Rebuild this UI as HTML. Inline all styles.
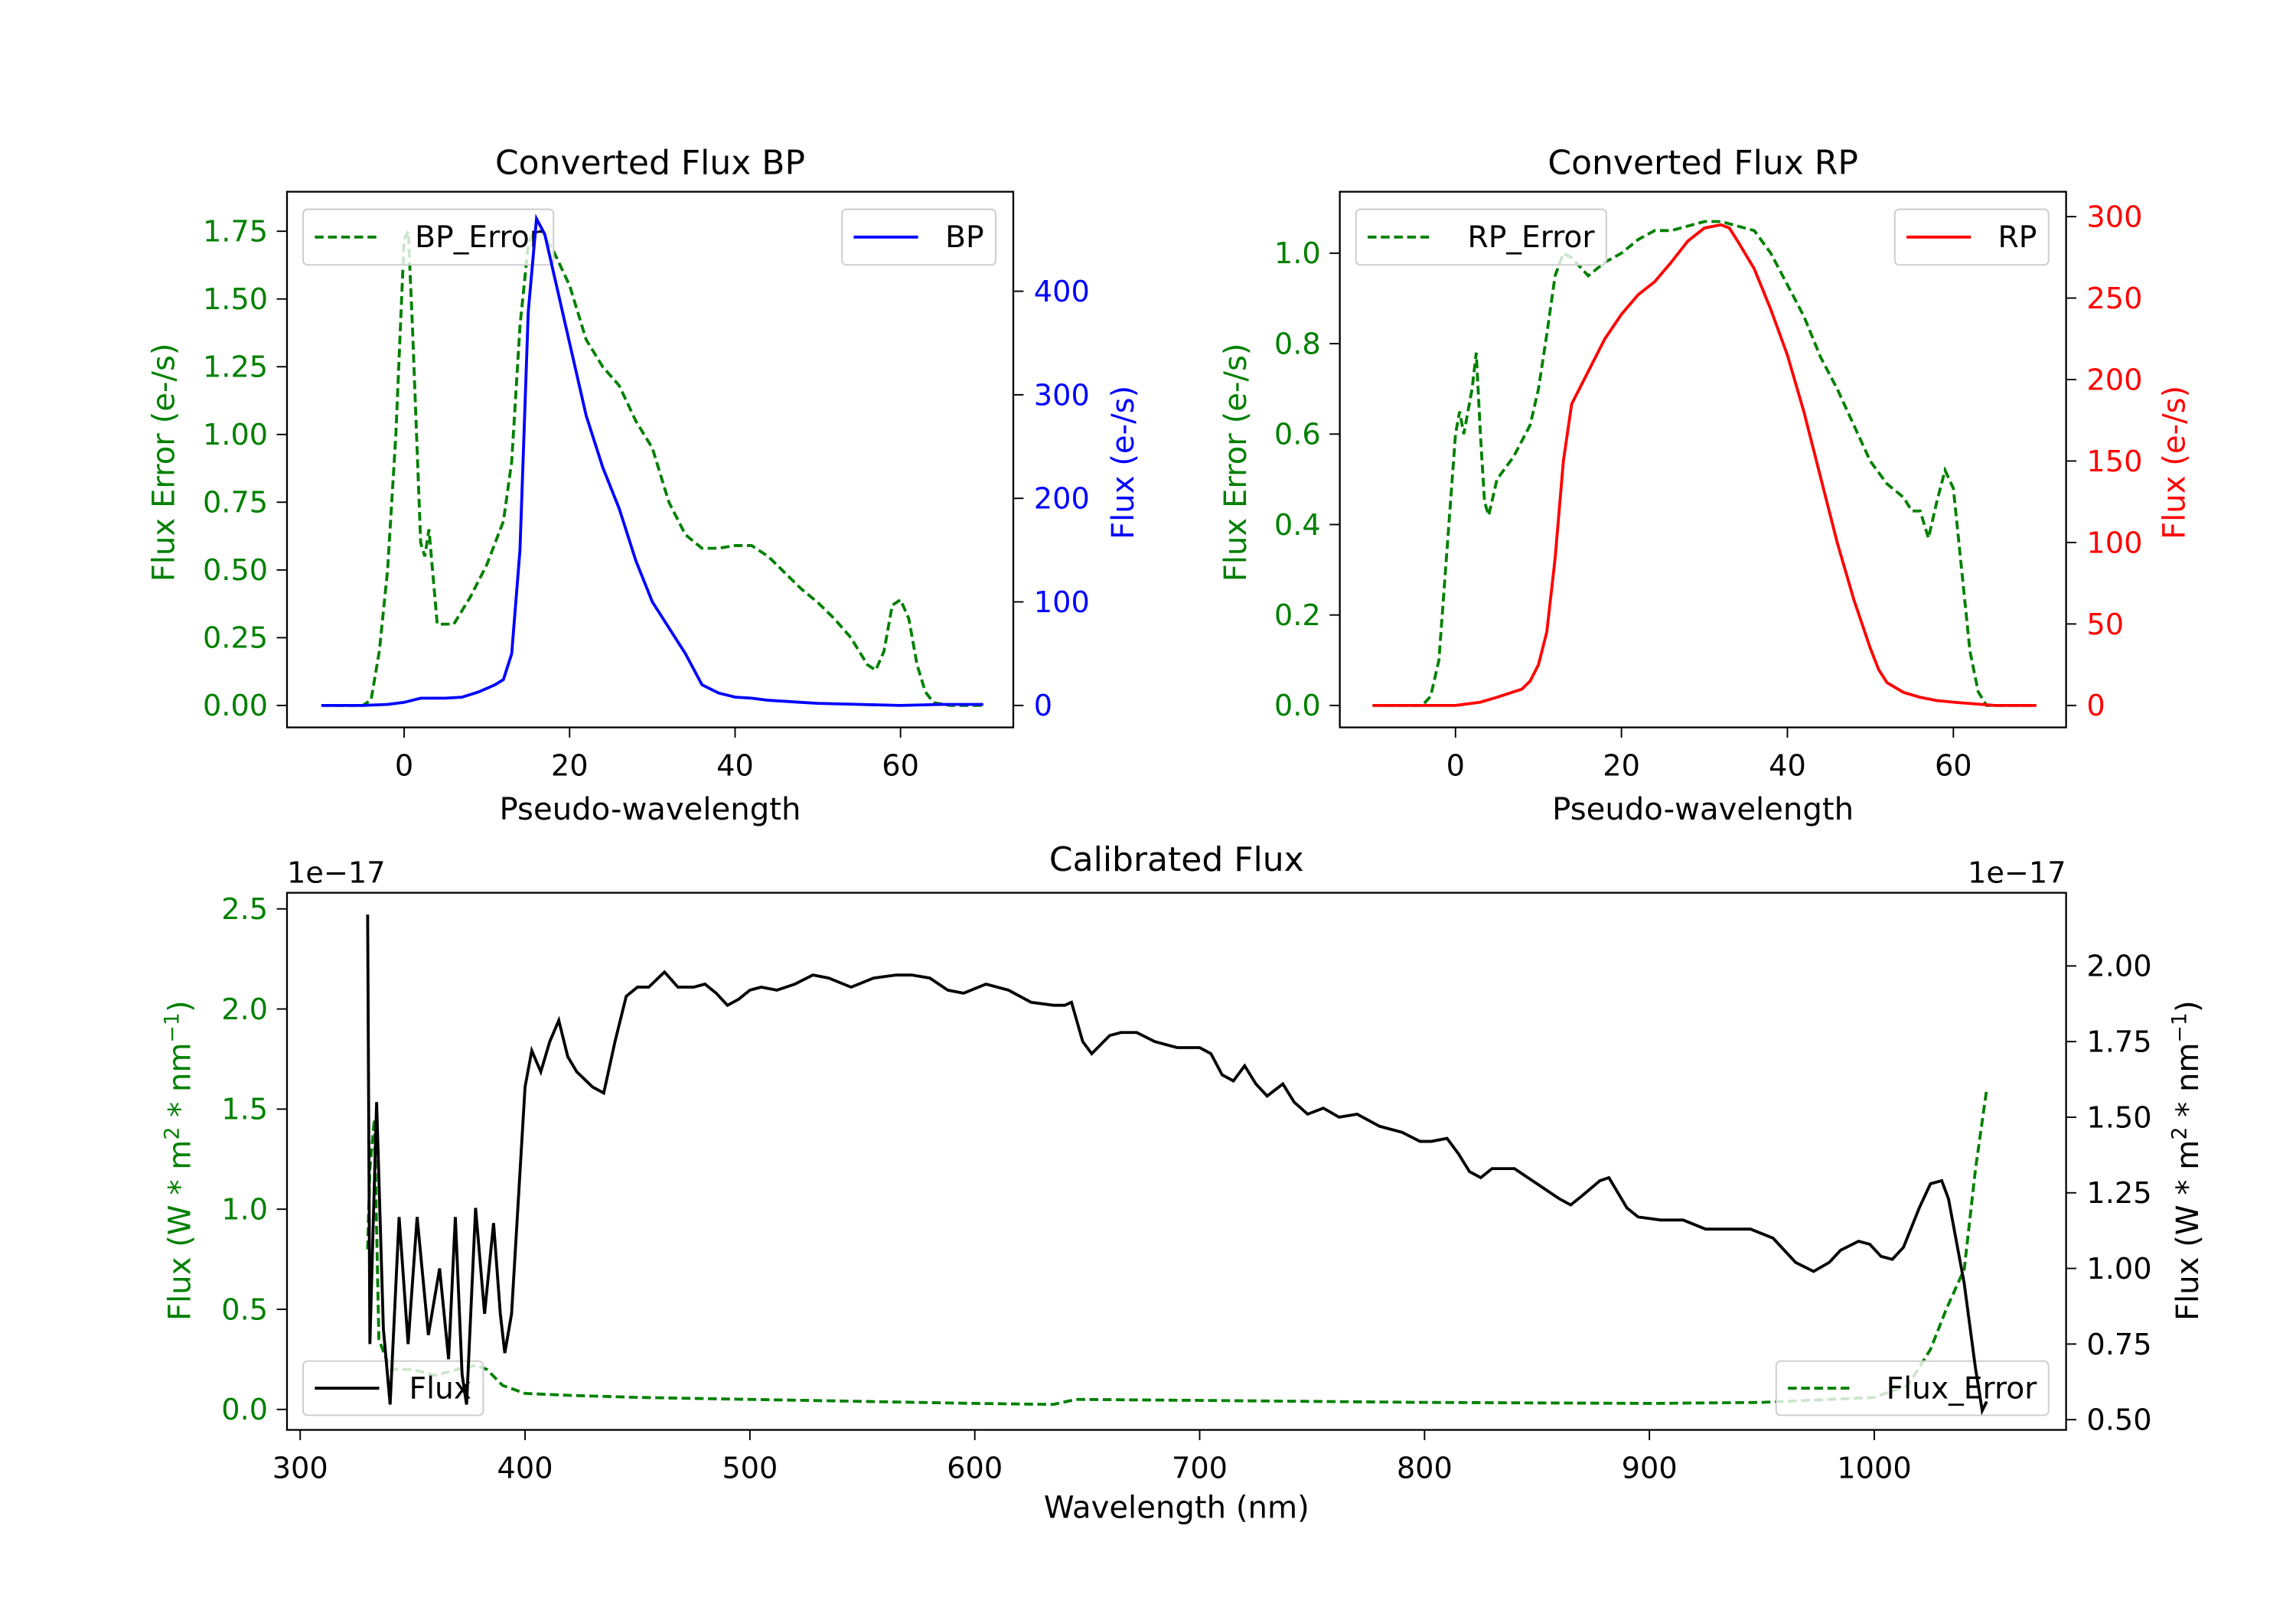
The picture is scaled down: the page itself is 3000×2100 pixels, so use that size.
<!DOCTYPE html>
<html><head><meta charset="utf-8"><style>
html,body{margin:0;padding:0;background:#fff}
svg{display:block}
text{font-family:"DejaVu Sans","Liberation Sans",sans-serif}
</style></head><body>
<svg id="fig" width="3000" height="2100" viewBox="0 0 1568 1098" preserveAspectRatio="none" xmlns="http://www.w3.org/2000/svg">
<rect width="1568" height="1098" fill="#fff"/>
</svg>
<script>
// ---- data ----
const bpX=[-10,-5,-2,0,2,5,7,9,11,12,13,14,15,16,17,18,20,22,24,26,28,30,32,34,35,36,38,40,42,44,46,48,50,55,60,65,70];
const bpFlux=[0,0,1,3,7,7,8,13,20,25,50,150,380,470,455,420,350,280,230,190,140,100,75,50,35,20,12,8,7,5,4,3,2,1,0,1,1];
const bpErrX=[-10,-5,-4,-3,-2,-1,0,0.5,1,2,2.5,3,4,5,6,8,10,12,13,14,15,16,18,20,22,24,26,28,30,32,34,36,38,40,42,44,46,48,50,52,54,56,57,58,59,60,61,62,63,64,66,70];
const bpErr=[0,0,0.02,0.2,0.5,1.0,1.72,1.75,1.4,0.6,0.55,0.65,0.3,0.3,0.3,0.4,0.52,0.68,0.9,1.4,1.7,1.78,1.68,1.55,1.35,1.25,1.18,1.05,0.95,0.75,0.63,0.58,0.58,0.59,0.59,0.55,0.49,0.43,0.38,0.32,0.25,0.15,0.13,0.2,0.37,0.39,0.32,0.15,0.05,0.01,0,0];
const rpX=[-10,0,3,5,8,9,10,11,12,13,14,15,16,18,20,22,24,26,28,30,32,33,34,36,38,40,42,44,46,48,50,51,52,54,56,58,60,65,70];
const rpFlux=[0,0,2,5,10,15,25,45,90,150,185,195,205,225,240,252,260,272,285,293,295,293,285,268,243,215,180,140,100,65,35,22,14,8,5,3,2,0,0];
const rpErrX=[-10,-4,-3,-2,-1,0,0.5,1,2,2.5,3,3.5,4,5,7,9,10,11,12,13,14,16,18,20,22,24,26,28,30,32,34,36,38,40,42,44,46,48,50,52,54,55,56,57,58,59,60,61,62,63,64,70];
const rpErr=[0,0,0.02,0.1,0.35,0.6,0.65,0.6,0.7,0.78,0.6,0.45,0.42,0.5,0.55,0.62,0.7,0.82,0.95,1.0,0.99,0.95,0.98,1.0,1.03,1.05,1.05,1.06,1.07,1.07,1.06,1.05,1.0,0.93,0.86,0.77,0.7,0.62,0.54,0.49,0.46,0.43,0.43,0.37,0.45,0.52,0.48,0.3,0.12,0.03,0,0];
const calWl=[330,331,334,337,340,344,348,352,357,362,366,369,372,374,378,382,386,389,391,394,400,403,407,411,415,419,423,430,435,440,445,450,455,462,468,475,480,485,490,495,500,505,512,520,528,535,545,555,565,572,580,588,595,605,615,625,635,640,643,648,652,660,665,672,680,690,700,705,710,715,720,725,730,737,742,748,755,762,770,780,790,798,803,810,815,820,825,830,840,850,860,865,870,878,882,890,895,905,915,925,935,945,955,965,973,980,985,993,998,1003,1008,1013,1020,1025,1030,1033,1040,1045,1048,1050];
const calFlux=[2.17,0.75,1.55,0.8,0.55,1.17,0.75,1.17,0.78,1.0,0.7,1.17,0.65,0.55,1.2,0.85,1.15,0.85,0.72,0.85,1.6,1.72,1.65,1.75,1.82,1.7,1.65,1.6,1.58,1.75,1.9,1.93,1.93,1.98,1.93,1.93,1.94,1.91,1.87,1.89,1.92,1.93,1.92,1.94,1.97,1.96,1.93,1.96,1.97,1.97,1.96,1.92,1.91,1.94,1.92,1.88,1.87,1.87,1.88,1.75,1.71,1.77,1.78,1.78,1.75,1.73,1.73,1.71,1.64,1.62,1.67,1.61,1.57,1.61,1.55,1.51,1.53,1.50,1.51,1.47,1.45,1.42,1.42,1.43,1.38,1.32,1.30,1.33,1.33,1.28,1.23,1.21,1.24,1.29,1.30,1.20,1.17,1.16,1.16,1.13,1.13,1.13,1.10,1.02,0.99,1.02,1.06,1.09,1.08,1.04,1.03,1.07,1.20,1.28,1.29,1.23,0.95,0.67,0.53,0.56];
const errWl=[330,331,333,335,340,350,360,370,378,383,390,400,420,450,500,550,600,635,645,700,800,900,950,1000,1015,1025,1032,1040,1045,1050];
const calErr=[0.8,1.2,1.45,0.35,0.2,0.2,0.17,0.2,0.22,0.2,0.12,0.08,0.07,0.06,0.05,0.04,0.03,0.025,0.05,0.045,0.035,0.03,0.035,0.06,0.12,0.3,0.5,0.7,1.2,1.6];
const pxTicks=[0,20,40,60];
const bpErrTicks=["0.00","0.25","0.50","0.75","1.00","1.25","1.50","1.75"];
const bpFluxTicks=[0,100,200,300,400];
const rpErrTicks=["0.0","0.2","0.4","0.6","0.8","1.0"];
const rpFluxTicks=[0,50,100,150,200,250,300];
const wlTicks=[300,400,500,600,700,800,900,1000];
const calErrTicks=["0.0","0.5","1.0","1.5","2.0","2.5"];
const calFluxTicks=["0.50","0.75","1.00","1.25","1.50","1.75","2.00"];

const TK=20, LB=21, TT=23, LG=20.5;
const NS="http://www.w3.org/2000/svg";
const svg=document.getElementById('fig');
function el(tag,attrs,parent){const e=document.createElementNS(NS,tag);for(const k in attrs)e.setAttribute(k,attrs[k]);(parent||svg).appendChild(e);return e;}
function txt(s,x,y,attrs){const t=el('text',Object.assign({x:x,y:y,'font-size':TK},attrs||{}));t.textContent=s;return t;}
function lin(d0,d1,r0,r1){return v=>r0+(v-d0)*(r1-r0)/(d1-d0);}
function pathD(xs,ys,fx,fy){return xs.map((v,i)=>(i?'L':'M')+fx(v).toFixed(2)+','+fy(ys[i]).toFixed(2)).join('');}
function legend(x,y,w,h,label,color,dash,name){
  const g=el('g',{});
  
  
  el('rect',{x:x,y:y,width:w,height:h,rx:3,fill:'#fff','fill-opacity':0.8,stroke:'#ccc','stroke-width':1},g);
  el('line',{x1:x+8,y1:y+h/2,x2:x+52,y2:y+h/2,stroke:color,'stroke-width':2,'stroke-dasharray':dash||'none'},g);
  const t=txt(label,x+w-8,y+h/2+7,{'text-anchor':'end','font-size':LG});
  g.appendChild(t);
}
function frame(x0,y0,x1,y1,name){const r=el('rect',{x:x0,y:y0,width:x1-x0,height:y1-y0,fill:'none',stroke:'#000','stroke-width':1.2});}

// ---- BP panel ----
(function(){
  const X0=196,X1=692,Y0=131,Y1=497;
  const fx=lin(0,60,276,615), fyL=lin(0,1.75,482,158), fyR=lin(0,400,482,199);
  const t=txt('Converted Flux BP',(X0+X1)/2,119,{'text-anchor':'middle','font-size':TT});
  
  const clip=el('clipPath',{id:'c1'});el('rect',{x:X0,y:Y0,width:X1-X0,height:Y1-Y0},clip);
  const e=el('path',{d:pathD(bpErrX,bpErr,fx,fyL),fill:'none',stroke:'green','stroke-width':2,'stroke-dasharray':'6,3','clip-path':'url(#c1)'});
  
  legend(207,143,171,38,'BP_Error','green','6,3','bp-error-legend');
  const f=el('path',{d:pathD(bpX,bpFlux,fx,fyR),fill:'none',stroke:'blue','stroke-width':2,'clip-path':'url(#c1)'});
  
  legend(575,143,105,38,'BP','blue','','bp-legend');
  frame(X0,Y0,X1,Y1,'bp-axes');
  pxTicks.forEach(v=>{el('line',{x1:fx(v),y1:Y1,x2:fx(v),y2:Y1+7,stroke:'#000'});txt(String(v),fx(v),Y1+33,{'text-anchor':'middle'});});
  bpErrTicks.forEach(s=>{const y=fyL(+s);el('line',{x1:X0-7,y1:y,x2:X0,y2:y,stroke:'#000'});txt(s,X0-13,y+7,{'text-anchor':'end',fill:'green'});});
  bpFluxTicks.forEach(v=>{const y=fyR(v);el('line',{x1:X1,y1:y,x2:X1+7,y2:y,stroke:'#000'});txt(String(v),X1+14,y+7,{fill:'blue'});});
  txt('Pseudo-wavelength',(X0+X1)/2,560,{'text-anchor':'middle','font-size':LB});
  txt('Flux Error (e-/s)',0,0,{'text-anchor':'middle','font-size':LB,fill:'green',transform:'translate(119,316) rotate(-90)'});
  txt('Flux (e-/s)',0,0,{'text-anchor':'middle','font-size':LB,fill:'blue',transform:'translate(774,316) rotate(-90)'});
})();

// ---- RP panel ----
(function(){
  const X0=915,X1=1411,Y0=131,Y1=497;
  const fx=lin(0,60,994,1334), fyL=lin(0,1.0,482,173), fyR=lin(0,300,482,148);
  const t=txt('Converted Flux RP',(X0+X1)/2,119,{'text-anchor':'middle','font-size':TT});
  
  const clip=el('clipPath',{id:'c2'});el('rect',{x:X0,y:Y0,width:X1-X0,height:Y1-Y0},clip);
  const e=el('path',{d:pathD(rpErrX,rpErr,fx,fyL),fill:'none',stroke:'green','stroke-width':2,'stroke-dasharray':'6,3','clip-path':'url(#c2)'});
  
  legend(926,143,171,38,'RP_Error','green','6,3','rp-error-legend');
  const f=el('path',{d:pathD(rpX,rpFlux,fx,fyR),fill:'none',stroke:'red','stroke-width':2,'clip-path':'url(#c2)'});
  
  legend(1294,143,105,38,'RP','red','','rp-legend');
  frame(X0,Y0,X1,Y1,'rp-axes');
  pxTicks.forEach(v=>{el('line',{x1:fx(v),y1:Y1,x2:fx(v),y2:Y1+7,stroke:'#000'});txt(String(v),fx(v),Y1+33,{'text-anchor':'middle'});});
  rpErrTicks.forEach(s=>{const y=fyL(+s);el('line',{x1:X0-7,y1:y,x2:X0,y2:y,stroke:'#000'});txt(s,X0-13,y+7,{'text-anchor':'end',fill:'green'});});
  rpFluxTicks.forEach(v=>{const y=fyR(v);el('line',{x1:X1,y1:y,x2:X1+7,y2:y,stroke:'#000'});txt(String(v),X1+14,y+7,{fill:'red'});});
  txt('Pseudo-wavelength',(X0+X1)/2,560,{'text-anchor':'middle','font-size':LB});
  txt('Flux Error (e-/s)',0,0,{'text-anchor':'middle','font-size':LB,fill:'green',transform:'translate(851,316) rotate(-90)'});
  txt('Flux (e-/s)',0,0,{'text-anchor':'middle','font-size':LB,fill:'red',transform:'translate(1492,316) rotate(-90)'});
})();

// ---- Calibrated panel ----
(function(){
  const X0=196,X1=1411,Y0=610,Y1=977;
  const fx=lin(300,1000,205,1280), fyL=lin(0,2.5,963,621), fyR=lin(0.5,2.0,970,660);
  const t=txt('Calibrated Flux',(X0+X1)/2,595,{'text-anchor':'middle','font-size':TT});
  
  const clip=el('clipPath',{id:'c3'});el('rect',{x:X0,y:Y0,width:X1-X0,height:Y1-Y0},clip);
  const e=el('path',{d:pathD(errWl,calErr,fx,fyL),fill:'none',stroke:'green','stroke-width':2,'stroke-dasharray':'6,3','clip-path':'url(#c3)'});
  
  legend(207,930,123,37,'Flux','#000','','flux-legend');
  legend(1213,930,186,37,'Flux_Error','green','6,3','flux-error-legend');
  const f=el('path',{d:pathD(calWl,calFlux,fx,fyR),fill:'none',stroke:'#000','stroke-width':2,'clip-path':'url(#c3)'});
  
  frame(X0,Y0,X1,Y1,'calibrated-axes');
  wlTicks.forEach(v=>{el('line',{x1:fx(v),y1:Y1,x2:fx(v),y2:Y1+7,stroke:'#000'});txt(String(v),fx(v),Y1+33,{'text-anchor':'middle'});});
  calErrTicks.forEach(s=>{const y=fyL(+s);el('line',{x1:X0-7,y1:y,x2:X0,y2:y,stroke:'#000'});txt(s,X0-13,y+7,{'text-anchor':'end',fill:'green'});});
  calFluxTicks.forEach(s=>{const y=fyR(+s);el('line',{x1:X1,y1:y,x2:X1+7,y2:y,stroke:'#000'});txt(s,X1+14,y+7);});
  txt('1e\u221217',196,603);
  txt('1e\u221217',1411,603,{'text-anchor':'end'});
  txt('Wavelength (nm)',(X0+X1)/2,1037,{'text-anchor':'middle','font-size':LB});
  const l=txt('',0,0,{'text-anchor':'middle','font-size':LB,fill:'green',transform:'translate(130,793) rotate(-90)'});
  l.innerHTML='Flux (W * m<tspan dy="-8" font-size="14">2</tspan><tspan dy="8"> * nm</tspan><tspan dy="-8" font-size="14">\u22121</tspan><tspan dy="8">)</tspan>';
  const r=txt('',0,0,{'text-anchor':'middle','font-size':LB,transform:'translate(1501,793) rotate(-90)'});
  r.innerHTML='Flux (W * m<tspan dy="-8" font-size="14">2</tspan><tspan dy="8"> * nm</tspan><tspan dy="-8" font-size="14">\u22121</tspan><tspan dy="8">)</tspan>';
})();
</script>
</body></html>
